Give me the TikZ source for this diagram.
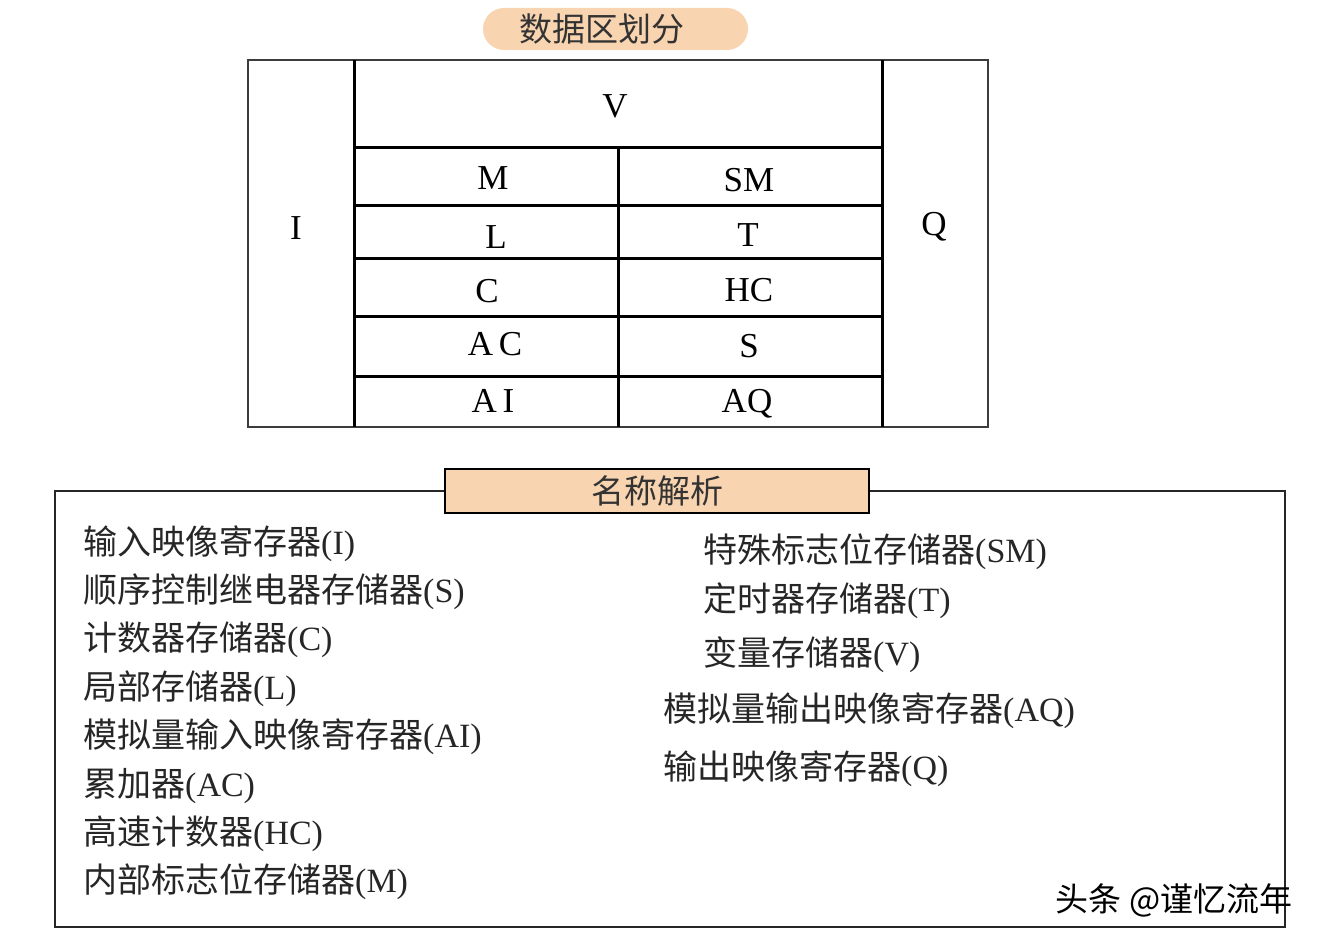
\documentclass[tikz,border=0pt]{standalone}
\usepackage{fontspec}
\setmainfont{Liberation Serif}
\newfontfamily\cjk{Noto Sans CJK SC}
\usetikzlibrary{calc}
\usetikzlibrary{positioning}
\definecolor{peach}{RGB}{249,212,176}
\definecolor{framegray}{RGB}{60,60,60}
\tikzstyle{thinline} = [draw=framegray, line width=1.6pt]
\tikzstyle{thickline} = [draw=black, line width=3pt]
\tikzstyle{celllabel} = [inner sep=0pt, text height=24pt, text depth=0pt, font=\fontsize{35}{40}\selectfont]
\tikzstyle{itemnode} = [inner sep=0pt, anchor=west, text height=30pt, text depth=4pt, text=black!85, font=\fontsize{34}{40}\selectfont]
\tikzstyle{titlepill} = [fill=peach, rounded corners=21pt, minimum width=265pt, minimum height=42pt, inner sep=0pt, text=black!80, font=\cjk\fontsize{33}{40}\selectfont]
\tikzstyle{namebox} = [draw=black, line width=2pt, fill=peach, minimum width=424pt, minimum height=44pt, inner sep=0pt, text=black!80, font=\cjk\fontsize{33}{40}\selectfont]
\newcommand{\zh}[1]{{\cjk #1}}

\begin{document}
\begin{tikzpicture}[x=1pt,y=-1pt]
\useasboundingbox (0,0) rectangle (1322,944);
% upper table
\node[titlepill] (title) at (615.5,29) {\hspace*{-28pt}数据区划分};
\draw[thinline] (248,60) rectangle (988,427);
\draw[thickline] (354,60) -- (354,427);
\draw[thickline] (882,60) -- (882,427);
\draw[thickline] (618,148) -- (618,427);
\foreach \y in {148,206,258,316,376}
    \draw[thickline] (354,\y) -- (882,\y);

\node[celllabel] (lbl_i) at (296,227) {I};
\node[celllabel] (lbl_q) at (934,224) {Q};
\node[celllabel] (lbl_v) at (615,106) {V};
\node[celllabel] (lbl_m) at (493,178) {M};
\node[celllabel] (lbl_sm) at (749,180) {SM};
\node[celllabel] (lbl_l) at (496,236) {L};
\node[celllabel] (lbl_t) at (748,234) {T};
\node[celllabel] (lbl_c) at (487,290) {C};
\node[celllabel] (lbl_hc) at (749,289) {HC};
\node[celllabel] (lbl_ac) at (495,343) {A\,C};
\node[celllabel] (lbl_s) at (749,345) {S};
\node[celllabel] (lbl_ai) at (493,400) {A\,I};
\node[celllabel] (lbl_aq) at (747,400) {AQ};

% name list
\draw[thinline, draw=black!85, line width=2pt] (55,491) rectangle (1285,927);
\node[namebox] (names) at (657,491) {名称解析};

\node[itemnode] (item_i) at (83,541) {\zh{输入映像寄存器}(I)};
\node[itemnode, below right=14pt and 0pt of item_i.south west] (item_s) {\zh{顺序控制继电器存储器}(S)};
\node[itemnode, below right=14pt and 0pt of item_s.south west] (item_c) {\zh{计数器存储器}(C)};
\node[itemnode, below right=14pt and 0pt of item_c.south west] (item_l) {\zh{局部存储器}(L)};
\node[itemnode, below right=14pt and 0pt of item_l.south west] (item_ai) {\zh{模拟量输入映像寄存器}(AI)};
\node[itemnode, below right=14pt and 0pt of item_ai.south west] (item_ac) {\zh{累加器}(AC)};
\node[itemnode, below right=14pt and 0pt of item_ac.south west] (item_hc) {\zh{高速计数器}(HC)};
\node[itemnode, below right=14pt and 0pt of item_hc.south west] (item_m) {\zh{内部标志位存储器}(M)};

\node[itemnode] (item_sm) at (703,549) {\zh{特殊标志位存储器}(SM)};
\node[itemnode] (item_t) at ($(item_sm.west)+(0,49)$) {\zh{定时器存储器}(T)};
\node[itemnode] (item_v) at ($(item_t.west)+(0,54)$) {\zh{变量存储器}(V)};
\node[itemnode] (item_aq) at ($(item_v.west)+(-40,56)$) {\zh{模拟量输出映像寄存器}(AQ)};
\node[itemnode] (item_q) at ($(item_aq.west)+(0,58)$) {\zh{输出映像寄存器}(Q)};

\node[inner sep=0pt, font=\cjk\fontsize{33}{38}\selectfont] (mark) at (1174,900) {头条 @谨忆流年};
\end{tikzpicture}
\end{document}
